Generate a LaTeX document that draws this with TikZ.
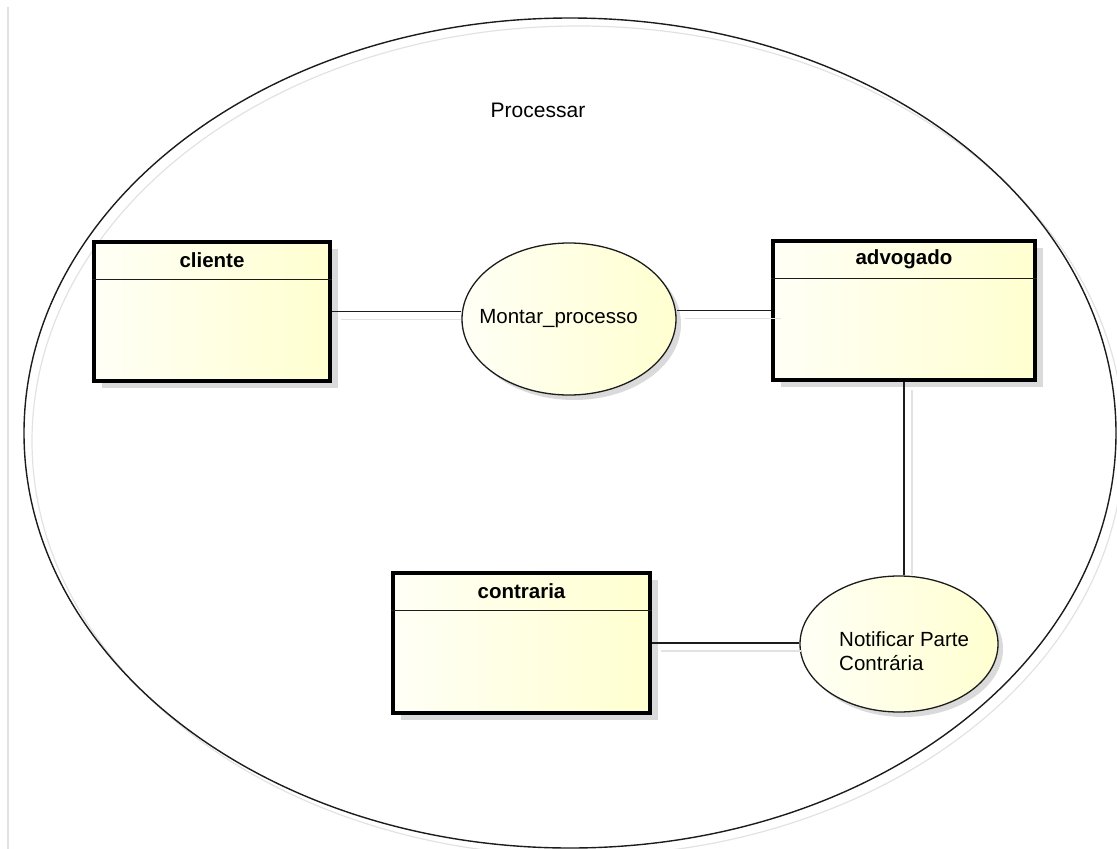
\documentclass[tikz,border=0pt]{standalone}
\usepackage{fontspec}
\setmainfont{Liberation Sans}
\usetikzlibrary{shapes.geometric,shadows}

\definecolor{fillhi}{HTML}{FFFFF6}
\definecolor{filllo}{HTML}{FFFFD0}
\definecolor{shadowgray}{HTML}{DADADA}
\definecolor{edgegray}{HTML}{E2E2E2}
\definecolor{ink}{HTML}{1C1C1C}

\tikzset{
  boundary/.style={ellipse, draw=ink, line width=1.4pt, inner sep=0pt,
    minimum width=1092pt, minimum height=830pt},
  boundaryshadow/.style={ellipse, draw=edgegray, line width=1.2pt, inner sep=0pt,
    minimum width=1092pt, minimum height=830pt},
  classbox/.style={rectangle, draw=black, line width=3.4pt, inner sep=0pt,
    left color=fillhi, right color=filllo,
    drop shadow={shadow xshift=8pt, shadow yshift=-7pt, fill=shadowgray, opacity=1}},
  divider/.style={draw=ink, line width=1.2pt},
  classname/.style={font=\bfseries\fontsize{20.5}{24}\selectfont, inner sep=0pt},
  usecase/.style={ellipse, draw=ink, line width=1.3pt, inner sep=0pt,
    left color=fillhi, right color=filllo,
    drop shadow={shadow xshift=5pt, shadow yshift=-5pt, fill=shadowgray, opacity=1}},
  uctext/.style={font=\fontsize{20.5}{24}\selectfont, inner sep=0pt, align=left},
  link/.style={draw=ink, line width=1.4pt},
  linkshadow/.style={draw=edgegray, line width=1.4pt},
}

\begin{document}
\begin{tikzpicture}[x=1pt,y=-1pt]
\useasboundingbox (0,0) rectangle (1117,849);

% canvas edge
\coordinate (edgetop) at (8,7);
\coordinate (edgebottom) at (8,849);
\draw[edgegray, line width=1.5pt] (edgetop) -- (edgebottom);

% system boundary
\node[boundaryshadow] (processarshadow) at (578,441) {};
\node[boundary] (processar) at (570,433) {};
\node[font=\fontsize{21}{24}\selectfont, inner sep=0pt] (processarlabel) at (538,110) {Processar};

% use cases
\node[usecase, minimum width=214pt, minimum height=152pt] (montar) at (569,319) {};
\node[uctext] (montartext) at (558.5,319) {Montar\_processo};

\node[usecase, minimum width=198pt, minimum height=136pt] (notificar) at (899,644) {};
\node[uctext, anchor=west] (notificartext) at (839,651.5) {Notificar Parte\\Contrária};

% classes
\node[classbox, minimum width=236pt, minimum height=139pt] (cliente) at (212,311.5) {};
\draw[divider] ([yshift=-39pt]cliente.north west) -- ([yshift=-39pt]cliente.north east);
\node[classname] (clientename) at ([yshift=-19.5pt]cliente.north) {cliente};

\node[classbox, minimum width=262pt, minimum height=139pt] (advogado) at (904,310.5) {};
\draw[divider] ([yshift=-39pt]advogado.north west) -- ([yshift=-39pt]advogado.north east);
\node[classname] (advogadoname) at ([yshift=-19.5pt]advogado.north) {advogado};

\node[classbox, minimum width=257pt, minimum height=140pt] (contraria) at (521.5,643) {};
\draw[divider] ([yshift=-39pt]contraria.north west) -- ([yshift=-39pt]contraria.north east);
\node[classname] (contrarianame) at ([yshift=-19.5pt]contraria.north) {contraria};

% association shadows
\draw[linkshadow] ([shift={(9,8)}]cliente.east) -- ([shift={(0,8)}]montar.west |- cliente.east);
\draw[linkshadow] ([shift={(8,8)}]montar.east |- advogado.west) -- ([shift={(10,8)}]advogado.west);
\draw[linkshadow] ([shift={(8,8)}]advogado.south) -- ([shift={(8,0)}]advogado.south |- notificar.north);
\draw[linkshadow] ([shift={(9,8)}]contraria.east) -- ([shift={(2,8)}]notificar.west |- contraria.east);

% associations
\draw[link] (cliente.east) -- (montar.west |- cliente.east);
\draw[link] (montar.east |- advogado.west) -- (advogado.west);
\draw[link] (advogado.south) -- (advogado.south |- notificar.north);
\draw[link] (contraria.east) -- (notificar.west |- contraria.east);
\end{tikzpicture}
\end{document}
